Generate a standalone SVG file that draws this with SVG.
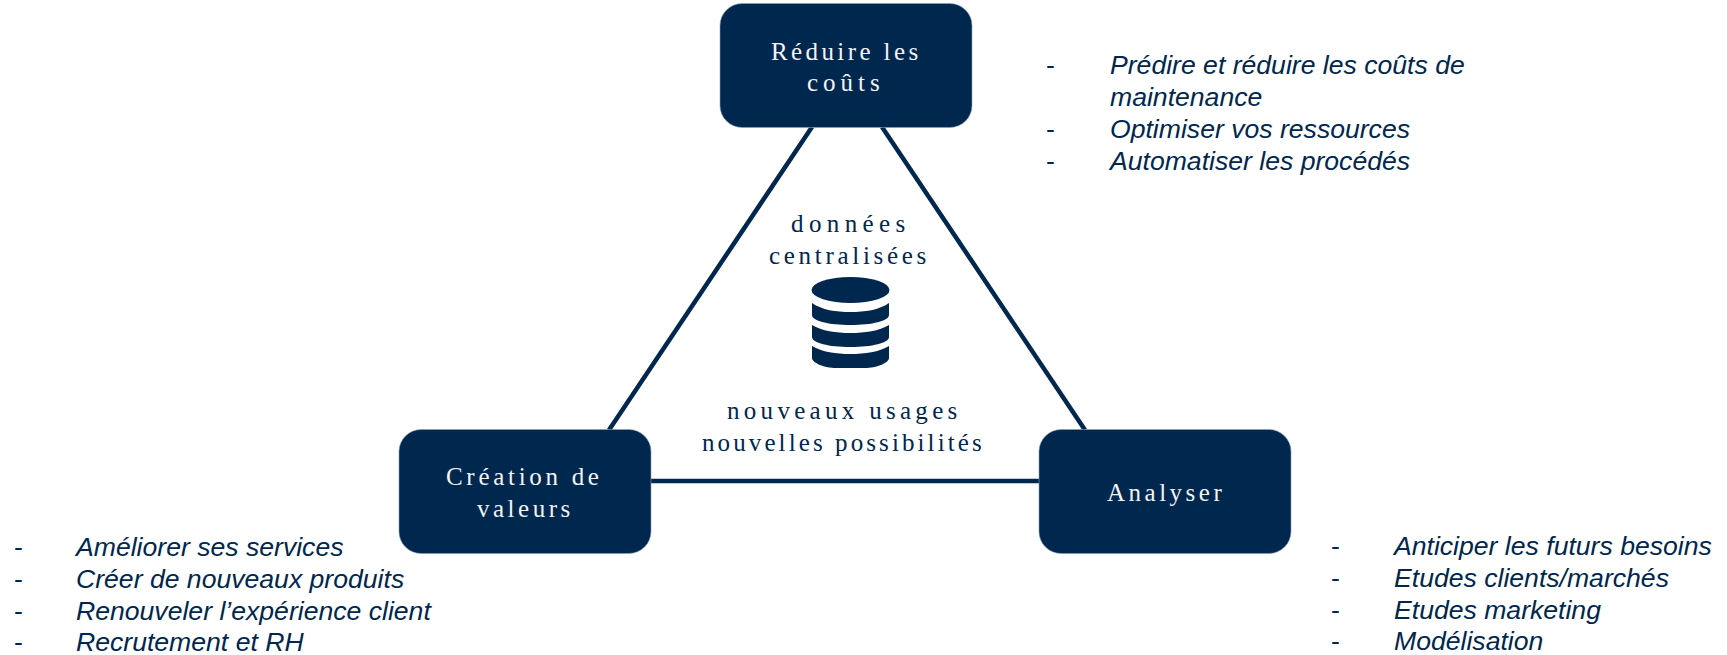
<svg xmlns="http://www.w3.org/2000/svg" width="1727" height="655" viewBox="0 0 1727 655">
<style>
.box{fill:#00274d;stroke:#8fa3b8;stroke-width:.6}
.link{stroke:#00274d;stroke-width:4.5;fill:none}
.nt{font-family:"Liberation Serif",serif;font-size:25px;fill:#f2f4f7}
.ct{font-family:"Liberation Serif",serif;font-size:25px;fill:#00274d}
.li{font-family:"Liberation Sans",sans-serif;font-size:26.6px;font-style:italic;fill:#00274d}
.da{font-family:"Liberation Sans",sans-serif;font-size:26.6px;fill:#00274d}
.db{fill:#00274d}
</style>
<g id="connectors">
<line class="link" x1="812" y1="127" x2="609" y2="430"/>
<line class="link" x1="882" y1="127" x2="1085" y2="430"/>
<line class="link" x1="651" y1="481" x2="1039" y2="481"/>
</g>
<g id="node-reduire">
<rect class="box" x="720" y="3.500" width="252" height="124" rx="22"/>
<text class="nt" x="771" y="60" letter-spacing="3.4">Réduire les</text>
<text class="nt" x="807" y="91" letter-spacing="5">coûts</text>
</g>
<g id="node-creation">
<rect class="box" x="399" y="429.500" width="252" height="124" rx="22"/>
<text class="nt" x="446" y="485" letter-spacing="3.7">Création de</text>
<text class="nt" x="477" y="517" letter-spacing="3.5">valeurs</text>
</g>
<g id="node-analyser">
<rect class="box" x="1039" y="429.500" width="252" height="124" rx="22"/>
<text class="nt" x="1107" y="501" letter-spacing="3.5">Analyser</text>
</g>
<g id="center">
<text class="ct" x="791" y="232" letter-spacing="5.4">données</text>
<text class="ct" x="769" y="264" letter-spacing="3.7">centralisées</text>
<g id="database-icon">
<ellipse class="db" cx="850.500" cy="290" rx="39" ry="13"/>
<path class="db" d="M812 303C822 310 836 312 850.500 312C865 312 879 310 889 303V315C889 321 872 325 850.500 325C829 325 812 321 812 315Z"/>
<path class="db" d="M812 325C822 331 836 333 850.500 333C865 333 879 331 889 325V337C889 343 872 347 850.500 347C829 347 812 343 812 337Z"/>
<path class="db" d="M812 346C822 352 836 354 850.500 354C865 354 879 352 889 346V358C889 363 876 368 865 368H836C825 368 812 363 812 358Z"/>
</g>
<text class="ct" x="727" y="419" letter-spacing="4.3">nouveaux usages</text>
<text class="ct" x="702" y="451" letter-spacing="3.1">nouvelles possibilités</text>
</g>
<g id="list-reduire">
<text class="da" x="1046" y="73.500">-</text><text class="li" x="1110" y="73.500">Prédire et réduire les coûts de</text>
<text class="li" x="1110" y="105.500">maintenance</text>
<text class="da" x="1046" y="137.500">-</text><text class="li" x="1110" y="137.500">Optimiser vos ressources</text>
<text class="da" x="1046" y="169.500">-</text><text class="li" x="1110" y="169.500">Automatiser les procédés</text>
</g>
<g id="list-creation">
<text class="da" x="14" y="556">-</text><text class="li" x="76" y="556">Améliorer ses services</text>
<text class="da" x="14" y="588">-</text><text class="li" x="76" y="588">Créer de nouveaux produits</text>
<text class="da" x="14" y="619.500">-</text><text class="li" x="76" y="619.500">Renouveler l’expérience client</text>
<text class="da" x="14" y="651">-</text><text class="li" x="76" y="651">Recrutement et RH</text>
</g>
<g id="list-analyser">
<text class="da" x="1331" y="555">-</text><text class="li" x="1394" y="555">Anticiper les futurs besoins</text>
<text class="da" x="1331" y="587">-</text><text class="li" x="1394" y="587">Etudes clients/marchés</text>
<text class="da" x="1331" y="619">-</text><text class="li" x="1394" y="619">Etudes marketing</text>
<text class="da" x="1331" y="650">-</text><text class="li" x="1394" y="650">Modélisation</text>
</g>
</svg>
